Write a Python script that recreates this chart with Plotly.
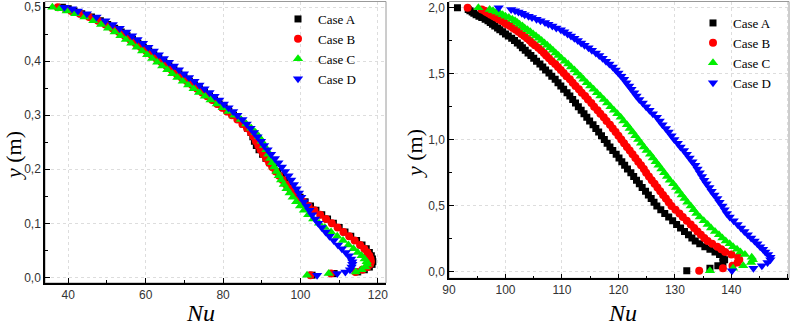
import plotly.graph_objects as go

# ---------------- data: left panel (y in m, Nu per case) ----------------
y_left = [0.500, 0.497, 0.493, 0.488, 0.482, 0.475, 0.468, 0.461, 0.454, 0.447,
          0.440, 0.433, 0.426, 0.419, 0.412, 0.405, 0.398, 0.391, 0.384, 0.377,
          0.370, 0.363, 0.356, 0.349, 0.342, 0.335, 0.328, 0.321, 0.314, 0.307,
          0.300, 0.292, 0.284, 0.276, 0.268, 0.260, 0.252, 0.244, 0.236, 0.228,
          0.220, 0.212, 0.204, 0.196, 0.188, 0.180, 0.172, 0.164, 0.156, 0.148,
          0.140, 0.132, 0.124, 0.116, 0.108, 0.100, 0.092, 0.084, 0.076, 0.068,
          0.060, 0.053, 0.046, 0.040, 0.034, 0.029, 0.024, 0.019, 0.014, 0.010,
          0.007, 0.004]

nu_left_A = [38.5, 40.0, 41.5, 43.5, 46.0, 48.3, 50.2, 52.0, 53.7, 55.2,
             56.6, 58.0, 59.4, 60.8, 62.1, 63.4, 64.7, 66.0, 67.3, 68.6,
             69.9, 71.3, 72.6, 73.9, 75.2, 76.5, 77.8, 79.0, 80.3, 81.5,
             82.7, 84.0, 85.2, 86.3, 87.2, 87.7, 88.1, 88.6, 89.3, 90.2,
             91.1, 92.1, 93.1, 94.1, 95.1, 96.0, 96.9, 97.8, 98.8, 99.9,
             101.2, 102.6, 104.0, 105.5, 107.0, 108.5, 110.0, 111.5, 113.0, 114.5,
             115.9, 117.0, 117.8, 118.3, 118.6, 118.7, 118.5, 117.8, 116.5, 114.8,
             108.7, 103.0]

nu_left_B = [37.3, 39.3, 40.8, 43.0, 45.4, 47.7, 49.6, 51.4, 53.1, 54.6,
             56.0, 57.4, 58.8, 60.2, 61.5, 62.8, 64.1, 65.4, 66.7, 68.0,
             69.3, 70.7, 72.0, 73.3, 74.6, 75.9, 77.2, 78.5, 79.8, 81.0,
             82.3, 83.7, 85.0, 86.2, 87.2, 87.9, 88.5, 89.1, 89.7, 90.4,
             91.1, 91.9, 92.7, 93.6, 94.5, 95.4, 96.3, 97.3, 98.3, 99.4,
             100.7, 102.1, 103.6, 105.1, 106.6, 108.1, 109.6, 111.1, 112.6, 114.0,
             115.4, 116.5, 117.3, 117.8, 118.1, 118.2, 118.0, 117.3, 116.0, 114.2,
             107.9, 102.6]

nu_left_C = [35.9, 37.8, 39.6, 41.8, 44.2, 46.5, 48.5, 50.3, 52.0, 53.5,
             54.9, 56.3, 57.7, 59.1, 60.4, 61.7, 63.0, 64.3, 65.6, 66.9,
             68.2, 69.6, 71.0, 72.4, 73.8, 75.3, 76.8, 78.4, 79.9, 81.4,
             82.9, 84.6, 86.0, 87.3, 88.4, 89.3, 90.0, 90.6, 91.2, 91.7,
             92.2, 92.7, 93.2, 93.8, 94.4, 95.0, 95.7, 96.4, 97.2, 98.0,
             98.9, 99.9, 100.9, 102.0, 103.3, 104.8, 106.3, 107.9, 109.5, 111.0,
             112.4, 113.7, 114.8, 115.8, 116.6, 117.1, 117.2, 116.8, 115.8, 114.3,
             107.3, 101.7]

nu_left_D = [39.0, 41.0, 42.5, 44.8, 47.3, 49.6, 51.5, 53.3, 55.0, 56.5,
             57.9, 59.3, 60.7, 62.1, 63.4, 64.7, 66.0, 67.3, 68.6, 69.9,
             71.2, 72.6, 73.9, 75.2, 76.5, 77.8, 79.0, 80.2, 81.4, 82.6,
             83.7, 85.0, 86.1, 87.1, 88.0, 88.9, 89.8, 90.6, 91.5, 92.4,
             93.4, 94.3, 95.2, 96.0, 96.9, 97.6, 98.3, 99.0, 99.6, 100.2,
             100.9, 101.6, 102.3, 103.0, 103.8, 104.6, 105.5, 106.5, 107.5, 108.6,
             109.7, 110.7, 111.7, 112.5, 113.1, 113.4, 113.4, 113.2, 112.8, 111.6,
             109.5, 104.3]

# ---------------- data: right panel ----------------
y_right = [2.000, 1.988, 1.978, 1.968, 1.958, 1.948, 1.937, 1.926, 1.914, 1.902,
           1.889, 1.876, 1.862, 1.848, 1.833, 1.818, 1.802, 1.786, 1.769, 1.752,
           1.734, 1.716, 1.697, 1.678, 1.658, 1.638, 1.617, 1.596, 1.574, 1.552,
           1.529, 1.506, 1.482, 1.458, 1.433, 1.408, 1.383, 1.357, 1.331, 1.305,
           1.278, 1.251, 1.224, 1.197, 1.170, 1.142, 1.114, 1.086, 1.058, 1.030,
           1.002, 0.974, 0.946, 0.918, 0.890, 0.862, 0.834, 0.806, 0.778, 0.750,
           0.722, 0.694, 0.666, 0.638, 0.610, 0.582, 0.554, 0.526, 0.498, 0.470,
           0.442, 0.414, 0.386, 0.358, 0.331, 0.305, 0.280, 0.256, 0.233, 0.211,
           0.190, 0.170, 0.150, 0.130, 0.110, 0.090, 0.070, 0.045, 0.026, 0.008]

nu_right_A = [91.5, 93.4, 93.7, 94.1, 94.4, 94.8, 95.3, 95.8, 96.4, 96.9,
              97.3, 97.7, 98.1, 98.6, 99.0, 99.5, 100.0, 100.5, 101.1, 101.6,
              102.1, 102.6, 103.0, 103.5, 104.0, 104.5, 105.0, 105.5, 106.1, 106.6,
              107.1, 107.7, 108.2, 108.8, 109.3, 109.8, 110.3, 110.9, 111.4, 111.9,
              112.4, 112.9, 113.4, 113.9, 114.4, 114.9, 115.5, 116.0, 116.5, 117.0,
              117.5, 118.0, 118.5, 119.0, 119.6, 120.1, 120.6, 121.1, 121.6, 122.2,
              122.7, 123.2, 123.7, 124.2, 124.8, 125.3, 125.8, 126.3, 126.8, 127.5,
              128.2, 128.9, 129.6, 130.3, 131.0, 131.7, 132.4, 133.0, 133.6, 134.4,
              135.3, 136.2, 137.1, 137.9, 138.5, 138.8, 138.5, 137.6, 136.2, 132.1]

nu_right_B = [93.3, 95.8, 96.3, 96.6, 97.0, 97.4, 97.9, 98.3, 98.8, 99.3,
              99.8, 100.2, 100.8, 101.3, 101.8, 102.3, 102.8, 103.3, 103.8, 104.3,
              104.7, 105.2, 105.8, 106.3, 106.8, 107.2, 107.7, 108.2, 108.8, 109.3,
              109.8, 110.3, 110.8, 111.4, 111.9, 112.4, 113.0, 113.5, 114.1, 114.6,
              115.2, 115.7, 116.3, 116.8, 117.4, 117.9, 118.5, 119.0, 119.5, 120.0,
              120.5, 121.0, 121.5, 122.0, 122.5, 123.0, 123.5, 124.0, 124.5, 124.9,
              125.4, 125.9, 126.4, 126.9, 127.4, 127.9, 128.4, 128.9, 129.4, 130.1,
              130.8, 131.4, 132.1, 132.8, 133.4, 134.0, 134.6, 135.2, 135.8, 136.6,
              137.5, 138.2, 138.9, 140.0, 141.2, 141.4, 141.1, 140.2, 138.5, 134.3]

nu_right_C = [95.2, 97.2, 97.8, 98.4, 99.0, 99.5, 100.0, 100.6, 101.2, 101.7,
              102.1, 102.5, 103.0, 103.4, 103.9, 104.4, 104.9, 105.4, 105.9, 106.4,
              106.9, 107.4, 107.9, 108.4, 108.9, 109.4, 109.9, 110.5, 111.1, 111.6,
              112.2, 112.7, 113.3, 113.8, 114.4, 115.0, 115.6, 116.2, 116.8, 117.4,
              118.0, 118.6, 119.2, 119.8, 120.4, 120.9, 121.5, 122.0, 122.5, 123.0,
              123.5, 124.0, 124.5, 125.0, 125.6, 126.1, 126.6, 127.1, 127.6, 128.1,
              128.6, 129.1, 129.7, 130.2, 130.7, 131.2, 131.7, 132.2, 132.8, 133.3,
              133.8, 134.4, 135.1, 135.8, 136.4, 137.1, 137.8, 138.4, 139.0, 139.7,
              140.3, 141.0, 141.6, 142.4, 143.6, 143.8, 143.5, 142.1, 140.3, 136.2]

nu_right_D = [98.8, 101.0, 101.7, 102.3, 102.9, 103.4, 104.1, 104.7, 105.5, 106.2,
              107.0, 107.6, 108.3, 109.0, 109.8, 110.4, 111.0, 111.6, 112.2, 112.8,
              113.4, 114.0, 114.7, 115.3, 116.0, 116.6, 117.2, 117.8, 118.4, 119.0,
              119.5, 120.0, 120.5, 121.0, 121.4, 121.9, 122.3, 122.8, 123.2, 123.7,
              124.3, 124.9, 125.5, 126.1, 126.8, 127.3, 127.8, 128.4, 128.9, 129.4,
              129.9, 130.5, 131.0, 131.6, 132.1, 132.6, 133.1, 133.6, 134.0, 134.4,
              134.8, 135.2, 135.6, 136.1, 136.5, 137.0, 137.5, 137.9, 138.4, 138.8,
              139.2, 139.7, 140.4, 141.1, 141.7, 142.3, 142.9, 143.5, 144.1, 144.6,
              145.1, 145.6, 146.0, 146.5, 146.9, 146.9, 146.4, 145.4, 143.9, 140.1]

case_names = ["Case A", "Case B", "Case C", "Case D"]
left_tick_x = [40, 60, 80, 100, 120]
left_tick_y = [0.0, 0.1, 0.2, 0.3, 0.4, 0.5]
left_tick_y_text = ["0,0", "0,1", "0,2", "0,3", "0,4", "0,5"]
right_tick_x = [90, 100, 110, 120, 130, 140, 150]
right_tick_y = [0.0, 0.5, 1.0, 1.5, 2.0]
right_tick_y_text = ["0,0", "0,5", "1,0", "1,5", "2,0"]

# ---------------- styling ----------------
colors = ["#000000", "#ff0000", "#00ee00", "#0000ff"]
symbols = ["square", "circle", "triangle-up", "triangle-down"]
sizes = [7, 8, 9, 9]

W, H = 797, 325
fig = go.Figure()

left_series = [nu_left_A, nu_left_B, nu_left_C, nu_left_D]
right_series = [nu_right_A, nu_right_B, nu_right_C, nu_right_D]

for i in range(4):
    fig.add_trace(go.Scatter(
        x=left_series[i], y=y_left, mode="markers", name=case_names[i],
        marker=dict(symbol=symbols[i], color=colors[i], size=sizes[i], line=dict(width=0)),
        xaxis="x", yaxis="y", legend="legend"))
for i in range(4):
    fig.add_trace(go.Scatter(
        x=right_series[i], y=y_right, mode="markers", name=case_names[i],
        marker=dict(symbol=symbols[i], color=colors[i], size=sizes[i], line=dict(width=0)),
        xaxis="x2", yaxis="y2", legend="legend2"))

def px_x(p):
    return p / W

def px_y(p):
    return 1 - p / H

tickfont = dict(family="Liberation Sans, Arial, sans-serif", size=12, color="#333333")
common = dict(showgrid=True, gridcolor="#dddddd", griddash="dot", gridwidth=1,
              zeroline=False, showline=True, linecolor="black", linewidth=1.5,
              ticks="inside", ticklen=5, tickwidth=1, tickcolor="black",
              tickfont=tickfont, automargin=False, mirror=False)

legend_font = dict(family="Liberation Serif, Times New Roman, serif", size=13, color="black")

fig.update_layout(
    width=W, height=H, margin=dict(l=0, r=0, t=0, b=0),
    paper_bgcolor="white", plot_bgcolor="white",
    xaxis=dict(domain=[px_x(45), px_x(386)], range=[34, 122.1], anchor="y",
               tickvals=left_tick_x,
               minor=dict(dtick=10, ticks="inside", ticklen=3, tickcolor="black", showgrid=False),
               **common),
    yaxis=dict(domain=[px_y(283), px_y(1.5)], range=[-0.0105, 0.5105], anchor="x",
               tickvals=left_tick_y, ticktext=left_tick_y_text,
               minor=dict(dtick=0.05, ticks="inside", ticklen=3, tickcolor="black", showgrid=False),
               **common),
    xaxis2=dict(domain=[px_x(449), px_x(789)], range=[90, 150.2], anchor="y2",
                tickvals=right_tick_x,
                minor=dict(dtick=5, ticks="inside", ticklen=3, tickcolor="black", showgrid=False),
                **common),
    yaxis2=dict(domain=[px_y(278.3), px_y(1.5)], range=[-0.05, 2.048], anchor="x2",
                tickvals=right_tick_y, ticktext=right_tick_y_text,
                minor=dict(dtick=0.25, ticks="inside", ticklen=3, tickcolor="black", showgrid=False),
                **common),
    legend=dict(x=px_x(278), y=px_y(4), xanchor="left", yanchor="top",
                bgcolor="rgba(0,0,0,0)", borderwidth=0, font=legend_font,
                itemsizing="trace", tracegroupgap=0),
    legend2=dict(x=px_x(693), y=px_y(8), xanchor="left", yanchor="top",
                 bgcolor="rgba(0,0,0,0)", borderwidth=0, font=legend_font,
                 itemsizing="trace", tracegroupgap=0),
    showlegend=True,
)

# light frame on top/right of each panel
for xr, yr in [("x domain", "y domain"), ("x2 domain", "y2 domain")]:
    fig.add_shape(type="rect", xref=xr, yref=yr, x0=0, y0=0, x1=1, y1=1,
                  line=dict(color="#9a9a9a", width=1), layer="below")

title_font = dict(family="Liberation Serif, Times New Roman, serif", size=24, color="black")
ylab_font = dict(family="Liberation Serif, Times New Roman, serif", size=22, color="black")
fig.add_annotation(text="<i>Nu</i>", x=px_x(201), y=px_y(313), xref="paper", yref="paper",
                   showarrow=False, font=title_font, xanchor="center", yanchor="middle")
fig.add_annotation(text="<i>Nu</i>", x=px_x(622), y=px_y(313), xref="paper", yref="paper",
                   showarrow=False, font=title_font, xanchor="center", yanchor="middle")
fig.add_annotation(text="<i>y</i> (m)", x=px_x(13), y=px_y(156), xref="paper", yref="paper",
                   showarrow=False, font=ylab_font, textangle=-90, xanchor="center", yanchor="middle")
fig.add_annotation(text="<i>y</i> (m)", x=px_x(414), y=px_y(153), xref="paper", yref="paper",
                   showarrow=False, font=ylab_font, textangle=-90, xanchor="center", yanchor="middle")

# remove the default 8 px page margin so the figure fills the window exactly
fig.write_html("out.html", config={"displayModeBar": False},
               post_script="document.body.style.margin='0px';")
